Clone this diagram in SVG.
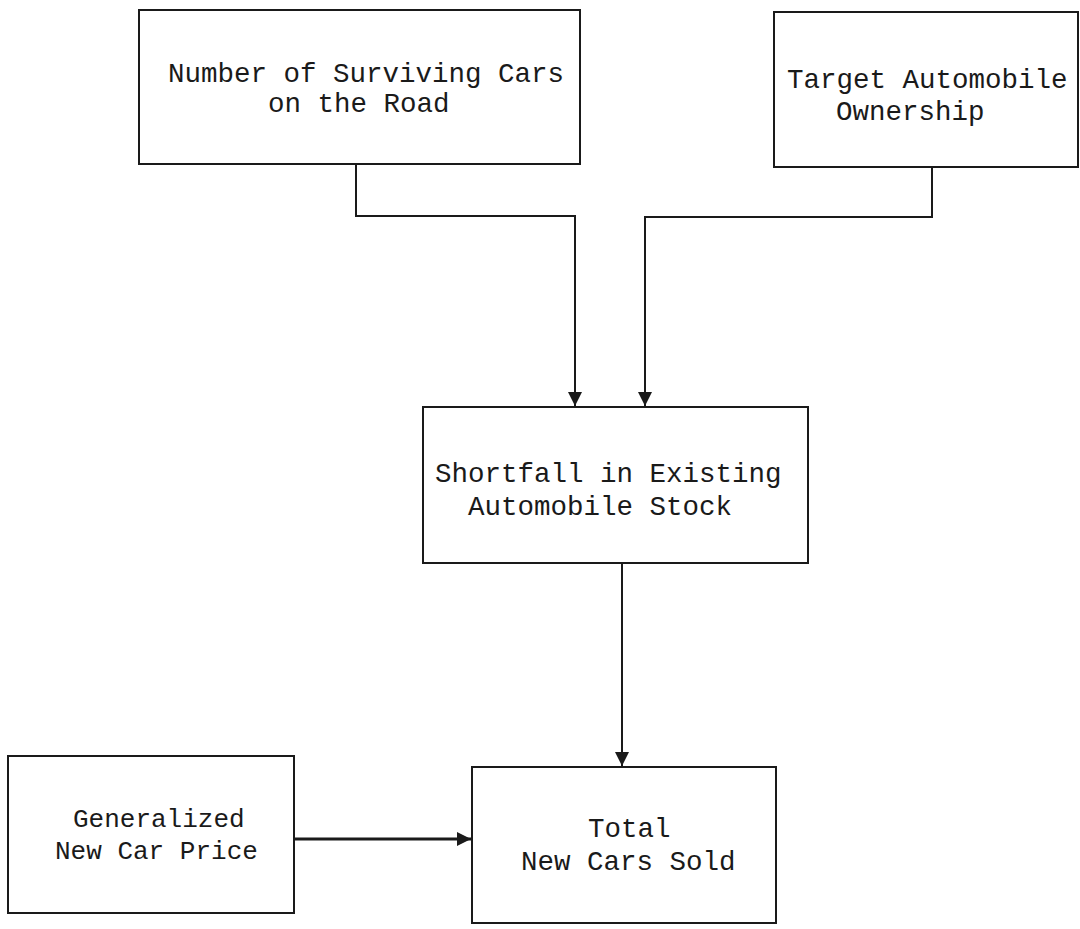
<svg xmlns="http://www.w3.org/2000/svg" width="1080" height="929" viewBox="0 0 1080 929">
  <style>
    .box { fill: none; stroke: #1a1a1a; stroke-width: 2; }
    .wire { fill: none; stroke: #1a1a1a; stroke-width: 2; }
    .lbl { font-family: "Liberation Mono", "Courier New", monospace; font-size: 27.5px; fill: #1a1a1a; }
    .sm { font-size: 26px; }
  </style>
  <defs>
    <marker id="arrow" viewBox="0 0 14 14" refX="14" refY="7" markerWidth="14" markerHeight="14" markerUnits="userSpaceOnUse" orient="auto">
      <path d="M0,0 L14,7 L0,14 Z" fill="#1a1a1a"/>
    </marker>
  </defs>
  <rect width="1080" height="929" fill="#ffffff"/>

  <g id="connectors">
    <path class="wire" d="M356,164 V216 H575 V406" marker-end="url(#arrow)"/>
    <path class="wire" d="M932,167 V217 H645 V406" marker-end="url(#arrow)"/>
    <path class="wire" d="M622,563 V766" marker-end="url(#arrow)"/>
    <path class="wire" d="M294,839 H471" marker-end="url(#arrow)" style="stroke-width:3"/>
  </g>

  <g id="surviving-cars">
    <rect class="box" x="139" y="10" width="441" height="154"/>
    <text class="lbl" x="168" y="82">Number of Surviving Cars</text>
    <text class="lbl" x="268" y="112">on the Road</text>
  </g>

  <g id="target-ownership">
    <rect class="box" x="774" y="12" width="304" height="155"/>
    <text class="lbl" x="787" y="88">Target Automobile</text>
    <text class="lbl" x="836" y="120">Ownership</text>
  </g>

  <g id="shortfall">
    <rect class="box" x="423" y="407" width="385" height="156"/>
    <text class="lbl" x="435" y="482">Shortfall in Existing</text>
    <text class="lbl" x="468" y="515">Automobile Stock</text>
  </g>

  <g id="car-price">
    <rect class="box" x="8" y="756" width="286" height="157"/>
    <text class="lbl sm" x="73" y="827">Generalized</text>
    <text class="lbl sm" x="55" y="859">New Car Price</text>
  </g>

  <g id="total-sold">
    <rect class="box" x="472" y="767" width="304" height="156"/>
    <text class="lbl" x="588" y="837">Total</text>
    <text class="lbl" x="521" y="870">New Cars Sold</text>
  </g>
</svg>
